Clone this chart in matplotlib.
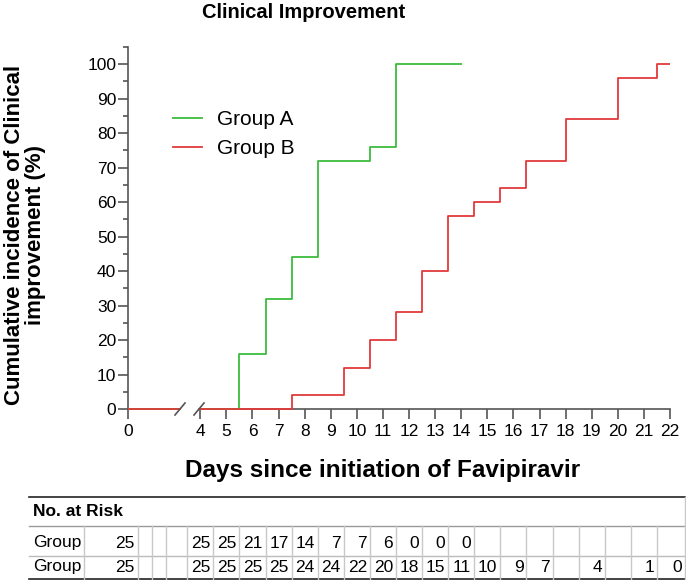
import numpy as np
import matplotlib as mpl
mpl.rcParams['font.family'] = ['Liberation Sans', 'DejaVu Sans']
from matplotlib import pyplot as plt
from matplotlib.lines import Line2D
from matplotlib.transforms import Bbox, TransformedBbox

# ---- data ----
days_a = [0, 5.5, 6.5, 7.5, 8.5, 10.5, 11.5, 14]
cum_a = [0, 16, 32, 44, 72, 76, 100, 100]
days_b = [0, 7.5, 9.5, 10.5, 11.5, 12.5, 13.5, 14.5, 15.5, 16.5, 18, 20, 21.5, 22]
cum_b = [0, 4, 12, 20, 28, 40, 56, 60, 64, 72, 84, 96, 100, 100]

risk_days = list(range(0, 23))
risk_a = [25, None, None, None, 25, 25, 21, 17, 14, 7, 7, 6, 0, 0, 0,
          None, None, None, None, None, None, None, None]
risk_b = [25, None, None, None, 25, 25, 25, 25, 24, 24, 22, 20, 18, 15, 11,
          10, 9, 7, None, 4, None, 1, 0]
risk_labels = ['Group', 'Group']

labels = ['Group A', 'Group B']
colors = ['#3dbb3d', '#e23a3a']

title = 'Clinical Improvement'
ylabel = 'Cumulative incidence of Clinical\nimprovement (%)'
xlabel = 'Days since initiation of Favipiravir'

# ---- layout (pixels) ----
W, H = 686, 581
axcol = '#555555'

fig = plt.figure(figsize=(W / 100, H / 100), dpi=100)

y0, y1 = 409, 47
ax_l = fig.add_axes([128 / W, 1 - y0 / H, 52 / W, (y0 - y1) / H])
ax_r = fig.add_axes([199 / W, 1 - y0 / H, 471 / W, (y0 - y1) / H], sharey=ax_l)

ax_l.set_xlim(0, 2)
ax_r.set_xlim(3.95, 22)
ax_l.set_ylim(0, 105)

for ax in (ax_l, ax_r):
    ax.patch.set_visible(False)
    for s in ('top', 'right'):
        ax.spines[s].set_visible(False)
    for s in ('left', 'bottom'):
        ax.spines[s].set_color(axcol)
        ax.spines[s].set_linewidth(1.2)
        ax.spines[s].set_zorder(1)
    ax.tick_params(axis='both', which='both', direction='out', color=axcol,
                   width=1.2, labelsize=12.5)
    ax.tick_params(axis='both', which='major', length=7)
    ax.tick_params(axis='y', which='minor', length=3.5)
    ax.tick_params(axis='x', which='major', pad=4)
    ax.tick_params(axis='y', which='major', pad=1.5)

ax_r.spines['left'].set_visible(False)
ax_r.tick_params(axis='y', which='both', left=False, labelleft=False)

ax_l.set_yticks(np.arange(0, 101, 10))
ax_l.set_yticks(np.arange(5, 106, 10), minor=True)
ax_l.set_xticks([0])
ax_r.set_xticks(range(4, 23))

# ---- curves ----
handles = []
for ax in (ax_l, ax_r):
    xl = ax.get_xlim()
    clip = TransformedBbox(Bbox([[xl[0], -3], [xl[1], 108]]), ax.transData)
    for d, c, col, lab in zip((days_a, days_b), (cum_a, cum_b), colors, labels):
        ln, = ax.step(d, c, where='post', color=col, lw=1.3, label=lab, zorder=3)
        ln.set_clip_box(clip)
        if ax is ax_r:
            handles.append(ln)

# ---- overlay in pixel coordinates ----
ov = fig.add_axes([0, 0, 1, 1])
ov.set_xlim(0, W)
ov.set_ylim(H, 0)
ov.axis('off')
ov.patch.set_visible(False)

def xpix(d):
    return ax_r.transData.transform((d, 0))[0]

# axis break marks
for xc in (128 + 52, 199):
    ov.add_line(Line2D([xc - 5, xc + 5], [y0 + 6, y0 - 6], color=axcol, lw=1.2))

# titles
fig.text(304 / W, 1 - 13 / H, title, ha='center', va='center',
         fontsize=14.5, fontweight='bold')
fig.text(25 / W, 1 - 235 / H, ylabel, ha='center', va='center', rotation=90,
         multialignment='center', fontsize=16, fontweight='bold', linespacing=1.0)
fig.text(383 / W, 1 - 470 / H, xlabel, ha='center', va='center',
         fontsize=17.5, fontweight='bold')

# legend
fig.legend(handles=handles, loc='upper left', bbox_to_anchor=(173 / W, 1 - 110 / H),
           frameon=False, fontsize=15, handlelength=1.4, handletextpad=0.7,
           labelspacing=0.5, borderpad=0, borderaxespad=0)

# ---- number at risk table ----
t_left, t_right = 29, 685
row_lines = [497, 526, 556, 579]
row_text = [512, 543, 567]
first_edges = [29, 84, 138, 152, 166]
day_edges = [xpix(d - 0.5) for d in risk_days[4:]] + [t_right]
edges = first_edges + day_edges
col_right = edges[2:]   # right edge of the cell for each day

ov.add_line(Line2D([t_left, t_right], [row_lines[0]] * 2, color='#222222', lw=1.2))
ov.add_line(Line2D([t_left, t_right], [row_lines[1]] * 2, color='#999999', lw=1.0))
ov.add_line(Line2D([t_left, t_right], [row_lines[2]] * 2, color='#bbbbbb', lw=1.0))
ov.add_line(Line2D([t_left, t_right], [row_lines[3]] * 2, color='#222222', lw=1.2))
for e in edges[1:]:
    ov.add_line(Line2D([e, e], [row_lines[1], row_lines[3]], color='#c8c8c8', lw=1.0))
ov.add_line(Line2D([t_right, t_right], [row_lines[0], row_lines[1]], color='#c8c8c8', lw=1.0))

ov.text(33, row_text[0], 'No. at Risk', ha='left', va='center',
        fontsize=12.5, fontweight='bold')
for ry, lab, vals in zip(row_text[1:], risk_labels, (risk_a, risk_b)):
    ov.text(33, ry, lab, ha='left', va='center', fontsize=12.5)
    for i, v in enumerate(vals):
        if v is None:
            continue
        ov.text(col_right[i] - 3, ry, str(v), ha='right', va='center', fontsize=12.5)

fig.savefig('out.png', dpi=100)
